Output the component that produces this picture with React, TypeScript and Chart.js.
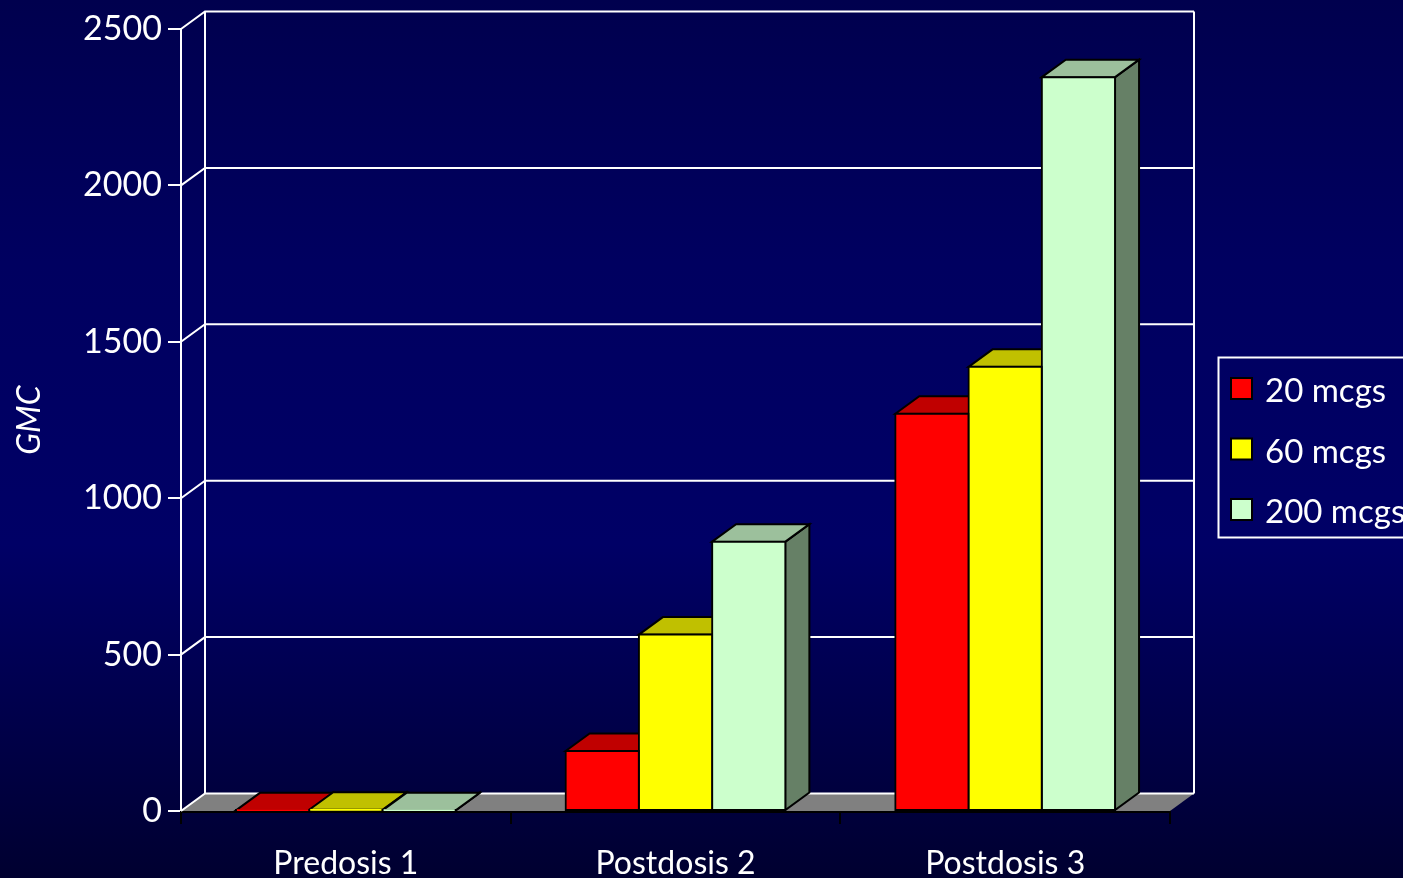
import { useEffect, useRef } from "react";
import { Chart, registerables } from "chart.js";

Chart.register(...registerables);

const categories = ["Predosis 1", "Postdosis 2", "Postdosis 3"];
const dose20 = [2, 192, 1270];
const dose60 = [4, 564, 1420];
const dose200 = [2, 861, 2346];
const seriesLabels = ["20 mcgs", "60 mcgs", "200 mcgs"];
const frontColors = ["#ff0000", "#ffff00", "#ccffcc"];
const topColors = ["#c00000", "#c0c000", "#9cc09c"];
const sideColors = ["#800000", "#808000", "#668066"];
const axisTitle = "GMC";

const FONT = "Lato, sans-serif";
const DEPTH_X = 24;
const DEPTH_Y = -17.5;

function polygon(ctx: CanvasRenderingContext2D, pts: number[][], fill: string, stroke?: string, width = 2) {
  ctx.beginPath();
  pts.forEach(([x, y], i) => (i ? ctx.lineTo(x, y) : ctx.moveTo(x, y)));
  ctx.closePath();
  ctx.fillStyle = fill;
  ctx.fill();
  if (stroke) {
    ctx.strokeStyle = stroke;
    ctx.lineWidth = width;
    ctx.lineJoin = "miter";
    ctx.stroke();
  }
}

// Page backdrop behind everything on the canvas.
const backdrop = {
  id: "backdrop",
  beforeDraw(chart: any) {
    const { ctx, width, height } = chart;
    const g = ctx.createLinearGradient(0, 0, 0, height);
    g.addColorStop(0, "#00004e");
    g.addColorStop(0.3, "#000060");
    g.addColorStop(0.62, "#000066");
    g.addColorStop(0.82, "#00004a");
    g.addColorStop(1, "#000030");
    ctx.fillStyle = g;
    ctx.fillRect(0, 0, width, height);
  },
};

// Back wall, floor and receding gridlines of the pseudo-3D box.
const walls = {
  id: "walls",
  beforeDatasetsDraw(chart: any) {
    const { ctx, chartArea: a, scales } = chart;
    const y = scales.y;
    const base = y.getPixelForValue(0);
    ctx.save();
    polygon(ctx, [
      [a.left, base],
      [a.left + DEPTH_X, base + DEPTH_Y],
      [a.right + DEPTH_X, base + DEPTH_Y],
      [a.right, base],
    ], "#808080");
    ctx.strokeStyle = "#ffffff";
    ctx.lineWidth = 2;
    y.ticks.forEach((t: any) => {
      const p = y.getPixelForValue(t.value);
      ctx.beginPath();
      ctx.moveTo(a.left, p);
      ctx.lineTo(a.left + DEPTH_X, p + DEPTH_Y);
      ctx.lineTo(a.right + DEPTH_X, p + DEPTH_Y);
      ctx.stroke();
    });
    ctx.beginPath();
    ctx.moveTo(a.left, a.top);
    ctx.lineTo(a.left, a.bottom);
    ctx.moveTo(a.left + DEPTH_X, a.top + DEPTH_Y);
    ctx.lineTo(a.left + DEPTH_X, a.bottom + DEPTH_Y);
    ctx.moveTo(a.right + DEPTH_X, a.top + DEPTH_Y);
    ctx.lineTo(a.right + DEPTH_X, a.bottom + DEPTH_Y);
    ctx.stroke();

    // Top and side faces, left to right; the front faces land on top of them.
    chart.data.datasets.forEach((_: any, ds: number) => {
      chart.getDatasetMeta(ds).data.forEach((bar: any) => {
        const l = bar.x - bar.width / 2;
        const r = bar.x + bar.width / 2;
        polygon(ctx, [
          [r, bar.y],
          [r + DEPTH_X, bar.y + DEPTH_Y],
          [r + DEPTH_X, bar.base + DEPTH_Y],
          [r, bar.base],
        ], sideColors[ds], "#000000");
        polygon(ctx, [
          [l, bar.y],
          [l + DEPTH_X, bar.y + DEPTH_Y],
          [r + DEPTH_X, bar.y + DEPTH_Y],
          [r, bar.y],
        ], topColors[ds], "#000000");
      });
    });
    ctx.restore();
  },
};

// Boxed key that runs off the right-hand edge of the page.
const keyBox = {
  id: "keyBox",
  afterDraw(chart: any) {
    const { ctx } = chart;
    ctx.save();
    ctx.strokeStyle = "#ffffff";
    ctx.lineWidth = 2;
    ctx.strokeRect(1218.5, 357.5, 240, 180);
    seriesLabels.forEach((label, i) => {
      const top = 378 + i * 60.5;
      ctx.fillStyle = frontColors[i];
      ctx.strokeStyle = "#000000";
      ctx.fillRect(1231, top, 21, 21);
      ctx.strokeRect(1231, top, 21, 21);
      ctx.fillStyle = "#ffffff";
      ctx.font = `33px ${FONT}`;
      ctx.textBaseline = "alphabetic";
      ctx.textAlign = "left";
      ctx.fillText(label, 1265, top + 24);
    });
    ctx.restore();
  },
};

export default function App() {
  const ref = useRef<HTMLCanvasElement>(null);
  useEffect(() => {
    const chart = new Chart(ref.current!, {
      type: "bar",
      data: {
        labels: categories,
        datasets: [dose20, dose60, dose200].map((data, i) => ({
          label: seriesLabels[i],
          data,
          backgroundColor: frontColors[i],
          borderColor: "#000000",
          borderWidth: 2,
          borderSkipped: false,
          inflateAmount: 1,
          categoryPercentage: 2 / 3,
          barPercentage: 1,
        })),
      },
      options: {
        responsive: false,
        animation: false,
        layout: { padding: { top: 29, right: 233, left: 0, bottom: 0 } },
        plugins: { legend: { display: false }, tooltip: { enabled: false } },
        scales: {
          x: {
            afterFit: (s: any) => { s.height = 878 - 811; },
            grid: { drawOnChartArea: false, color: "#000000", lineWidth: 2, tickLength: 13, tickColor: "#000000" },
            border: { color: "#000000", width: 3 },
            ticks: { color: "#ffffff", font: { family: FONT, size: 32 }, padding: 20, maxRotation: 0 },
          },
          y: {
            min: 0,
            max: 2500,
            afterFit: (s: any) => { s.width = 181; },
            grid: { drawOnChartArea: false, color: "#ffffff", lineWidth: 2, tickLength: 13, tickColor: "#ffffff" },
            border: { display: false },
            ticks: {
              stepSize: 500,
              color: "#ffffff",
              font: { family: FONT, size: 34 },
              padding: 6,
              callback: (v: any) => String(v),
            },
            title: {
              display: true,
              text: axisTitle,
              color: "#ffffff",
              font: { family: FONT, size: 32, style: "italic" },
              padding: { top: 10, bottom: 0 },
            },
          },
        },
      },
      plugins: [backdrop, walls, keyBox],
    } as any);
    return () => chart.destroy();
  }, []);
  return (
    <canvas
      ref={ref}
      width={1403}
      height={878}
      style={{ position: "fixed", left: 0, top: 0, width: 1403, height: 878, display: "block" }}
    />
  );
}
